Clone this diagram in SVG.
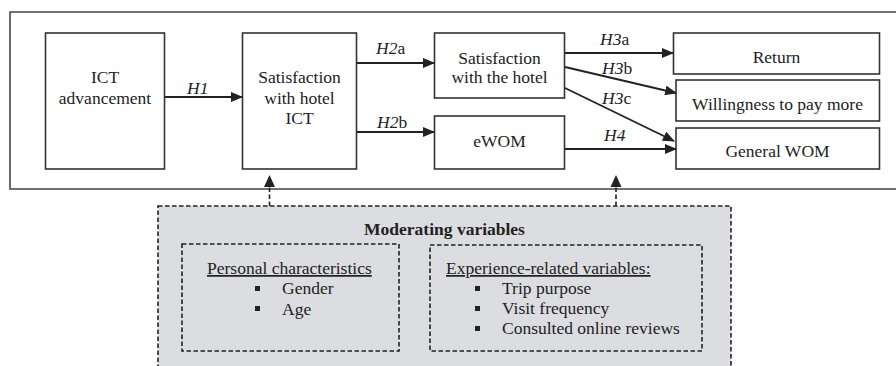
<svg xmlns="http://www.w3.org/2000/svg" width="896" height="366" viewBox="0 0 896 366">
<defs>
<style>
.box{fill:#fff;stroke:#333;stroke-width:1.6}
.t{font-family:"Liberation Serif","Times New Roman",serif;font-size:17.5px;fill:#222}
.c{text-anchor:middle}
.i{font-style:italic}
.e{stroke:#222;stroke-width:1.8;fill:none}
.d{stroke:#222;stroke-width:1.6;fill:none;stroke-dasharray:4.5 2.5}
.g{fill:#dcdde0}
.b{fill:#222}
</style>
<marker id="ah" markerWidth="12" markerHeight="10" refX="11" refY="5" orient="auto" markerUnits="userSpaceOnUse">
<path d="M0,0 L12,5 L0,10 Z" fill="#222"/>
</marker>
</defs>
<rect width="896" height="366" fill="#fff"/>
<path id="outer" d="M899,12 H10 V189 H899" fill="none" stroke="#444" stroke-width="1.6"/>

<g id="moderating">
<rect x="158" y="206" width="573" height="170" class="d g"/>
<text class="t c" x="444.5" y="235" font-weight="bold">Moderating variables</text>
</g>
<g id="personal">
<rect x="182" y="244" width="217" height="107" class="d"/>
<text class="t" x="207" y="274" text-decoration="underline">Personal characteristics</text>
<rect class="b" x="255" y="286" width="5" height="5"/>
<text class="t" x="282" y="294">Gender</text>
<rect class="b" x="255" y="306" width="5" height="5"/>
<text class="t" x="282" y="315">Age</text>
</g>
<g id="experience">
<rect x="430" y="245" width="272" height="106" class="d"/>
<text class="t" x="446" y="274" text-decoration="underline">Experience-related variables:</text>
<rect class="b" x="475" y="286" width="5" height="5"/>
<text class="t" x="502" y="294">Trip purpose</text>
<rect class="b" x="475" y="306" width="5" height="5"/>
<text class="t" x="502" y="314">Visit frequency</text>
<rect class="b" x="475" y="326" width="5" height="5"/>
<text class="t" x="502" y="334">Consulted online reviews</text>
</g>

<g id="ict">
<rect class="box" x="45.5" y="33" width="119" height="136"/>
<text class="t c" x="105" y="83">ICT</text>
<text class="t c" x="105" y="104">advancement</text>
</g>
<g id="sat-ict">
<rect class="box" x="242.5" y="33" width="114" height="136"/>
<text class="t c" x="299.5" y="83">Satisfaction</text>
<text class="t c" x="299.5" y="104">with hotel</text>
<text class="t c" x="299.5" y="124">ICT</text>
</g>
<g id="sat-hotel">
<rect class="box" x="434.5" y="33" width="130" height="65"/>
<text class="t c" x="499.5" y="63.5">Satisfaction</text>
<text class="t c" x="499.5" y="82.5">with the hotel</text>
</g>
<g id="ewom">
<rect class="box" x="434.5" y="116" width="130" height="53"/>
<text class="t c" x="499.5" y="147">eWOM</text>
</g>
<g id="return">
<rect class="box" x="673.5" y="33" width="206" height="41"/>
<text class="t c" x="776.5" y="63">Return</text>
</g>
<g id="willingness">
<rect class="box" x="676" y="80" width="203.5" height="41"/>
<text class="t c" x="777.5" y="110">Willingness to pay more</text>
</g>
<g id="general-wom">
<rect class="box" x="676" y="128" width="203.5" height="41"/>
<text class="t c" x="777.5" y="157">General WOM</text>
</g>

<g id="connectors">
<line class="e" x1="165" y1="97" x2="242" y2="97" marker-end="url(#ah)"/>
<line class="e" x1="357" y1="63" x2="434" y2="63" marker-end="url(#ah)"/>
<line class="e" x1="357" y1="132" x2="434" y2="132" marker-end="url(#ah)"/>
<line class="e" x1="565" y1="53" x2="673" y2="53" marker-end="url(#ah)"/>
<line class="e" x1="565" y1="67" x2="676" y2="93" marker-end="url(#ah)"/>
<line class="e" x1="565" y1="88" x2="674" y2="141" marker-end="url(#ah)"/>
<line class="e" x1="565" y1="149" x2="676" y2="149" marker-end="url(#ah)"/>
<line class="d" x1="269.5" y1="206" x2="269.5" y2="186"/>
<path class="b" d="M269.5,175 L275,187 L264,187 Z"/>
<line class="d" x1="616" y1="206" x2="616" y2="186"/>
<path class="b" d="M616,175 L621.5,187 L610.5,187 Z"/>
<text class="t i" x="187" y="94">H1</text>
<text class="t" x="376" y="54"><tspan class="i">H2</tspan>a</text>
<text class="t" x="377" y="128"><tspan class="i">H2</tspan>b</text>
<text class="t" x="600" y="45"><tspan class="i">H3</tspan>a</text>
<text class="t" x="602" y="74"><tspan class="i">H3</tspan>b</text>
<text class="t" x="602" y="104"><tspan class="i">H3</tspan>c</text>
<text class="t i" x="604" y="141">H4</text>
</g>
</svg>
